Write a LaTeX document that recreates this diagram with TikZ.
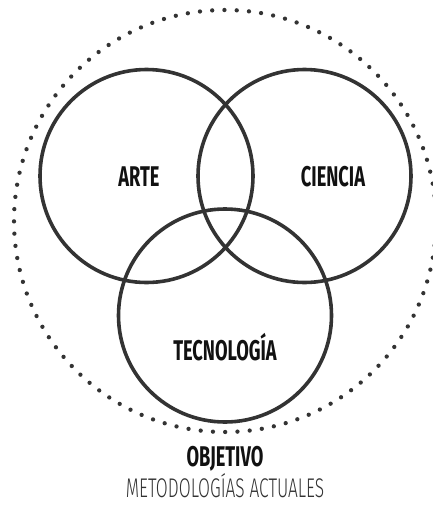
\documentclass[tikz,border=0pt]{standalone}
\usepackage{fontspec}
\setmainfont{Fira Sans}
\newfontfamily\boldcond[FakeStretch=0.64]{Fira Sans Bold}
\newfontfamily\lightcond[FakeStretch=0.64]{Fira Sans Light}
\definecolor{ink}{HTML}{333333}
\definecolor{txt}{HTML}{111111}
\tikzset{
  venn/.style={draw=ink, line width=3.6pt},
  halo/.style={draw=ink, line width=4.3pt, line cap=round, dash pattern=on 0pt off 12.27pt},
  lbl/.style={font=\boldcond\fontsize{28.5}{28.5}\selectfont, text=txt, inner sep=0pt, anchor=base},
  sub/.style={font=\lightcond\fontsize{27}{27}\selectfont, text=ink, inner sep=0pt, anchor=base}
}
\begin{document}
\begin{tikzpicture}[x=1pt,y=-1pt]
\useasboundingbox (0,0) rectangle (433,506);
\draw[halo] (225,221) circle[radius=211];
\draw[venn] (146.5,176) circle[radius=106.5];
\draw[venn] (304.5,176) circle[radius=106.5];
\draw[venn] (225,315.5) circle[radius=106.5];
\node[lbl] (arte) at (139,186) {ARTE};
\node[lbl] (ciencia) at (333,186) {CIENCIA};
\node[lbl] (tec) at (225,360) {TECNOLOGÍA};
\node[lbl] (obj) at (225,466) {OBJETIVO};
\node[sub] (met) at (225,497) {METODOLOGÍAS ACTUALES};
\end{tikzpicture}
\end{document}
